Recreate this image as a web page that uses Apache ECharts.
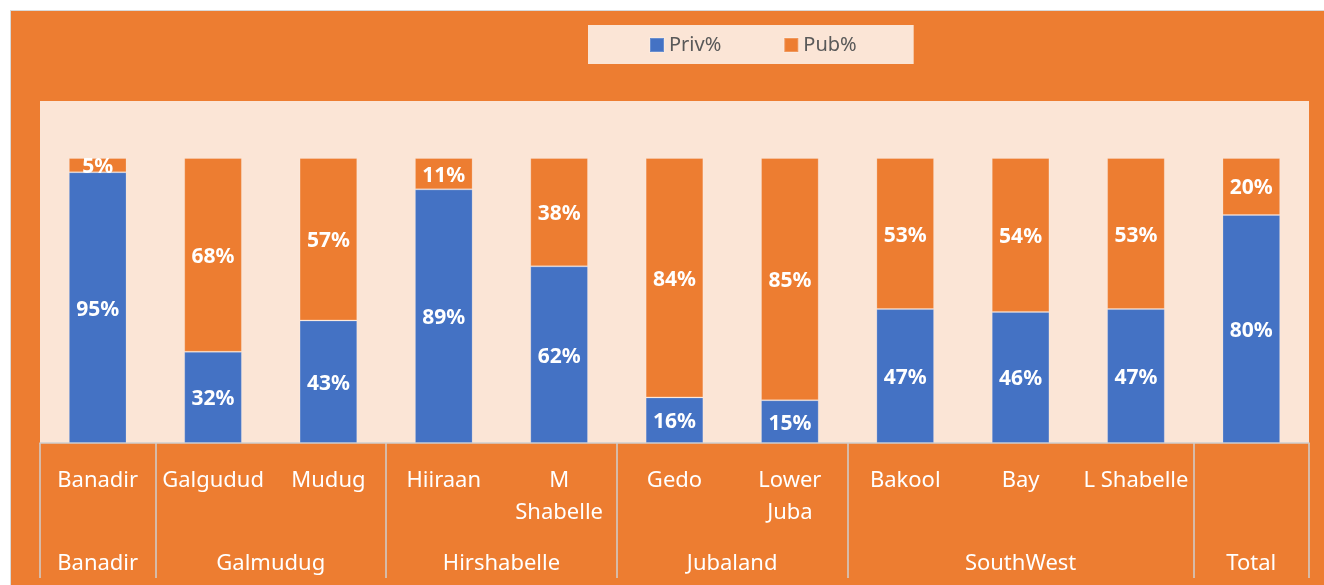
<!DOCTYPE html>
<html>
<head>
<meta charset="utf-8">
<script src="https://cdn.jsdelivr.net/npm/echarts@6/dist/echarts.min.js"></script>
<style>
    html, body { margin: 0; padding: 0; background: #fff; }
    #chart {
        position: absolute;
        left: 10px;
        top: 10px;
        width: 1314px;
        height: 575px;
        box-sizing: border-box;
        border-left: 1px solid #d9d9d9;
        border-top: 1px solid #d9d9d9;
        background: #ed7d31;
    }
</style>
</head>
<body>
<div id="chart"></div>
<script>
// 数据
const categories = ["Banadir", "Galgudud", "Mudug", "Hiiraan", "M\nShabelle", "Gedo", "Lower\nJuba", "Bakool", "Bay", "L Shabelle", ""];
const groupNames = ["Banadir", "Galmudug", "Hirshabelle", "Jubaland", "SouthWest", "Total"];
const groupSizes = [1, 2, 2, 2, 3, 1];
const privValues = [95, 32, 43, 89, 62, 16, 15, 47, 46, 47, 80];
const pubValues = [5, 68, 57, 11, 38, 84, 85, 53, 54, 53, 20];

const FONT = "Noto Sans";

// 分组的边界和中心（按类目下标）
const groupBounds = [-0.5];
const groupCenters = [];
let start = 0;
groupSizes.forEach((n) => {
    groupCenters.push(start + (n - 1) / 2);
    start += n;
    groupBounds.push(start - 0.5);
});

const barLabel = {
    show: true,
    position: "inside",
    offset: [0, 2],
    color: "#fff",
    fontFamily: FONT,
    fontWeight: "bold",
    fontSize: 21,
    formatter: (p) => p.value + "%"
};

const option = {
    animation: false,
    textStyle: { fontFamily: FONT },
    legend: {
        left: 577,
        top: 14,
        backgroundColor: "#fbe5d6",
        padding: [10, 57, 9, 61],
        itemGap: 62,
        itemWidth: 14,
        itemHeight: 14,
        icon: "rect",
        textStyle: { color: "#595959", fontSize: 20, fontFamily: FONT },
        data: ["Priv%", "Pub%"]
    },
    grid: {
        left: 29,
        right: 15,
        top: 90,
        height: 342,
        show: true,
        backgroundColor: "#fbe5d6",
        borderWidth: 0
    },
    xAxis: [
        {
            type: "category",
            data: categories,
            axisLine: { show: true, lineStyle: { color: "#d0cece", width: 1.5 } },
            axisTick: { show: false },
            axisLabel: {
                color: "#fff",
                fontFamily: FONT,
                fontSize: 22,
                lineHeight: 32,
                margin: 22,
                interval: 0
            }
        },
        {
            type: "value",
            position: "bottom",
            min: -0.5,
            max: categories.length - 0.5,
            splitLine: { show: false },
            axisLine: { show: false },
            axisTick: {
                show: true,
                customValues: groupBounds,
                length: 135,
                lineStyle: { color: "#d0cece", width: 1.5 }
            },
            axisLabel: {
                customValues: groupCenters,
                color: "#fff",
                fontFamily: FONT,
                fontSize: 22,
                margin: 110,
                formatter: (v) => {
                    const i = groupCenters.findIndex((c) => Math.abs(c - v) < 1e-6);
                    return i >= 0 ? groupNames[i] : "";
                }
            }
        }
    ],
    yAxis: {
        type: "value",
        min: 0,
        max: 120,
        show: false,
        splitLine: { show: false }
    },
    series: [
        {
            name: "Priv%",
            type: "bar",
            stack: "total",
            data: privValues,
            barWidth: "50%",
            itemStyle: { color: "#4472c4", borderColor: "rgba(255,255,255,0.2)", borderWidth: 1 },
            label: barLabel
        },
        {
            name: "Pub%",
            type: "bar",
            stack: "total",
            data: pubValues,
            barWidth: "50%",
            itemStyle: { color: "#ed7d31", borderColor: "rgba(255,255,255,0.2)", borderWidth: 1 },
            label: barLabel
        }
    ]
};

const ecIns = echarts.init(document.getElementById("chart"));
ecIns.setOption(option);
window.addEventListener("resize", () => ecIns.resize());
</script>
</body>
</html>
